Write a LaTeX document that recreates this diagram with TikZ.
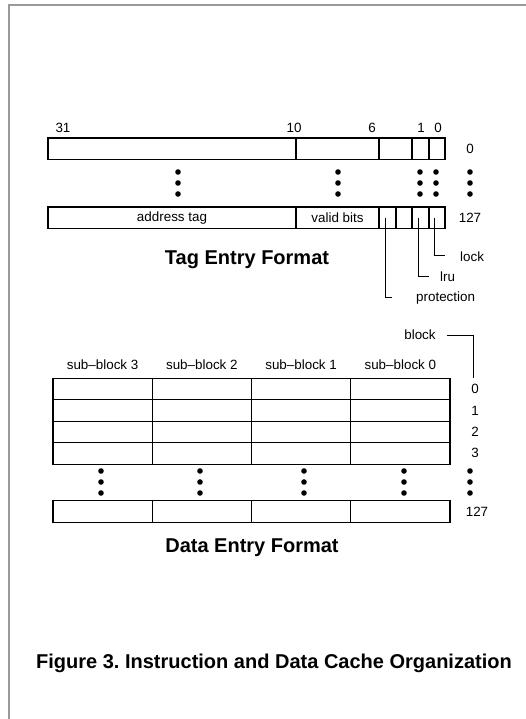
\documentclass[tikz,border=0pt]{standalone}
\usepackage{fontspec}
\setmainfont{Liberation Sans}
\usetikzlibrary{positioning}
\frenchspacing
\tikzstyle{cell} = [rectangle, draw=black, line width=1.2pt, minimum height=21.5pt, inner sep=0pt, outer sep=0pt, font=\fontsize{13.4}{16}\selectfont]
\tikzstyle{lbl} = [font=\fontsize{13.4}{16}\selectfont, inner sep=1pt]
\tikzstyle{heading} = [font=\fontsize{20}{24}\selectfont\bfseries]
\tikzstyle{leader} = [line width=0.8pt]
\tikzstyle{frame} = [draw=black!40, line width=1.5pt]

\begin{document}
\begin{tikzpicture}[x=1pt, y=-1pt]
\useasboundingbox (0,0) rectangle (526,719);
\draw [frame] (526,5) -- (9,5) -- (9,719);

% Tag entry, row 0
\node (ta0) [cell, minimum width=248pt, anchor=north west] at (48,138) {};
\node (tv0) [cell, minimum width=83pt, right=0pt of ta0] {};
\node (tp0) [cell, minimum width=33pt, right=0pt of tv0] {};
\node (tl0) [cell, minimum width=17pt, right=0pt of tp0] {};
\node (tk0) [cell, minimum width=16pt, right=0pt of tl0] {};

% Tag entry, row 127
\node (ta1) [cell, minimum width=248pt, anchor=north west] at (48,207) {address tag};
\node (tv1) [cell, minimum width=83pt, right=0pt of ta1] {valid bits};
\node (tp1) [cell, minimum width=17pt, right=0pt of tv1] {};
\node (tq1) [cell, minimum width=16pt, right=0pt of tp1] {};
\node (tl1) [cell, minimum width=17pt, right=0pt of tq1] {};
\node (tk1) [cell, minimum width=16pt, right=0pt of tl1] {};

% bit numbers and rows
\node (b31) [lbl] at (63,128) {31};
\node (b10) [lbl] at (294,128) {10};
\node (b6) [lbl] at (372,128) {6};
\node (b1) [lbl] at (421,128) {1};
\node (b0) [lbl] at (438,128) {0};
\node (tr0) [lbl] at (470,149) {0};
\node (tr127) [lbl] at (470,218) {127};
\foreach \x in {178,338,420,436,470}
  \foreach \y in {172,183,194}
    \fill (\x,\y) circle (2.8pt);

% Field names
\node (prot) [lbl, anchor=west] at (415,298) {protection};
\node (lru) [lbl, anchor=west] at (439,277) {lru};
\node (lock) [lbl, anchor=west] at (459,257) {lock};
\coordinate (protend) at (392,297);
\coordinate (lruend) at (429,276);
\coordinate (lockend) at (445,255);
\draw [leader] ([xshift=-2.5pt]tp1.center) |- (protend);
\draw [leader] ([xshift=-2.5pt]tl1.center) |- (lruend);
\draw [leader] ([xshift=-2.5pt]tk1.center) |- (lockend);

\node (tagtitle) [heading] at (247,260) {Tag Entry Format};

% Data entry
\foreach \r/\y in {0/389, 1/410.5, 2/432, 3/453.5, 127/511.5}
  \foreach \c in {0,...,3}
    \node (d\r-\c) [cell, minimum width=99.25pt] at (102.6+99.25*\c, \y) {};
\foreach \c/\s in {0/3, 1/2, 2/1, 3/0}
  \node (sb\s) [lbl] at (102.6+99.25*\c, 365) {sub--block \s};
\foreach \r/\y in {0/389, 1/411, 2/432, 3/453}
  \node (r\r) [lbl] at (475,\y) {\r};
\node (r127) [lbl] at (477,512) {127};
\foreach \x in {101,200,304,404,470}
  \foreach \y in {471,482,493}
    \fill (\x,\y) circle (2.8pt);

\node (block) [lbl] at (420,335) {block};
\coordinate (blkend) at (473,378);
\draw [leader] ([xshift=10pt]block.east) -| (blkend);

\node (datatitle) [heading] at (252,548) {Data Entry Format};
\node (caption) [heading] at (274,663) {Figure 3. Instruction and Data Cache Organization};

\end{tikzpicture}
\end{document}
